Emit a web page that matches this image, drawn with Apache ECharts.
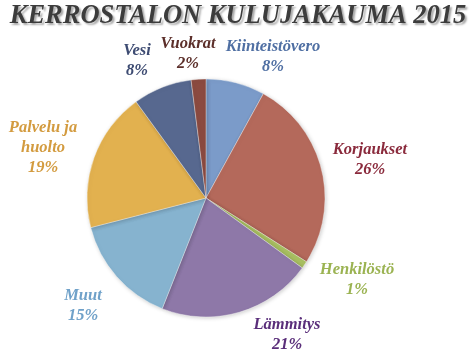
<!DOCTYPE html>
<html><head><meta charset="utf-8">
<script src="https://cdn.jsdelivr.net/npm/echarts@6/dist/echarts.min.js"></script>
<style>html,body{margin:0;padding:0;background:#fff}#c{width:476px;height:353px}</style>
</head><body><div id="c"></div>
<script>
const categories = ['Kiinteistövero','Korjaukset','Henkilöstö','Lämmitys','Muut','Palvelu ja\nhuolto','Vesi','Vuokrat'];
const values = [8, 26, 1, 21, 15, 19, 8, 2];
const titleText = 'KERROSTALON KULUJAKAUMA 2015';

const sliceColors = ['#7b9bc9','#b4695b','#a9c062','#8e78a8','#86b3cf','#e2b14f','#57688f','#8b4a40'];
const labelColors = ['#4f6fa3','#8a2a3c','#9bb352','#5a2e7a','#6fa1c9','#d39b3f','#3d4b72','#5c2f2a'];
const labelPos = [[273,57],[370,160],[357,280],[287,335],[83,306],[43,148],[137,61],[188,54]];

const chart = echarts.init(document.getElementById('c'), null, {renderer:'canvas'});
chart.setOption({
  animation:false,
  title:{
    text:titleText, left:'center', top:-2,
    textStyle:{fontFamily:'Liberation Serif', fontWeight:'bold', fontStyle:'italic', fontSize:26.5,
      color:'#3c3c3c', textShadowColor:'rgba(0,0,0,0.35)', textShadowOffsetX:2, textShadowOffsetY:2, textShadowBlur:2}
  },
  series:[{
    type:'pie', center:[206,198], radius:119, startAngle:90, clockwise:true,
    data: categories.map((n,i)=>({name:n, value:values[i],
      itemStyle:{color:sliceColors[i]},
      label:{color:labelColors[i]}})),
    itemStyle:{borderColor:'rgba(255,255,255,0.6)', borderWidth:0.6,
      shadowColor:'rgba(0,0,0,0.2)', shadowBlur:4, shadowOffsetX:1, shadowOffsetY:1},
    label:{show:true, position:'outside', formatter:'{b}\n{d}%', overflow:'none', width:200,
      fontFamily:'Liberation Serif', fontWeight:'bold', fontStyle:'italic', fontSize:16.5, lineHeight:20,
      align:'center', verticalAlign:'middle'},
    labelLine:{show:false},
    labelLayout:function(p){ const q = labelPos[p.dataIndex]; return {x:q[0], y:q[1], align:'center', verticalAlign:'middle', hideOverlap:false}; },
    emphasis:{disabled:true}
  }]
});
</script></body></html>
